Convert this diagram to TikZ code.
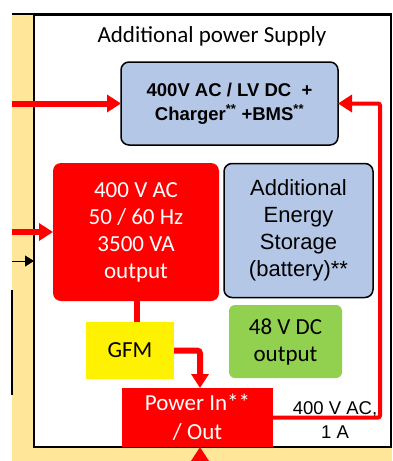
\documentclass[tikz,border=0pt]{standalone}
\usepackage{fontspec}
\newfontfamily\calibri{Carlito}
\newfontfamily\arial{Liberation Sans}
\usetikzlibrary{arrows.meta}
\definecolor{bandyellow}{HTML}{FFE699}
\definecolor{boxblue}{HTML}{B4C7E7}
\definecolor{dcgreen}{HTML}{92D050}
\begin{document}
\begin{tikzpicture}[x=1pt,y=-1pt,>={Triangle[length=14pt,width=17pt]},
 cal/.style={font=\fontsize{23}{27}\selectfont\calibri,align=center},
 ari/.style={font=\fontsize{22}{27}\selectfont\arial,align=center},
 unit/.style={inner sep=0pt,outer sep=0pt},
 bluebox/.style={unit,draw=black,line width=1.5pt,rounded corners=8pt,fill=boxblue},
 redbox/.style={unit,fill=red,text=white},
 pw/.style={red,line width=6pt},
 pwthin/.style={red,line width=4pt}]
\useasboundingbox (0,0) rectangle (392,461);
% yellow band and the supply frame
\fill[bandyellow] (12,14) rectangle (392,461);
\draw[line width=2pt] (12,14) -- (392,14);
\draw[line width=1.5pt,fill=white] (34,15) rectangle (391,447);
\node[cal] (title) at (212,36) {Additional power Supply};
% blocks
\node[bluebox,minimum width=217pt,minimum height=83pt,align=center,
 font=\fontsize{18.5}{24}\selectfont\arial\bfseries] (charger) at (229.5,103.5)
 {400V AC / LV DC~~+\\Charger\textsuperscript{**} +BMS\textsuperscript{**}};
\node[redbox,cal,rounded corners=8pt,minimum width=166pt,minimum height=138pt] (ac) at (136,232)
 {\raisebox{-2pt}{\parbox{166pt}{\centering 400 V AC\\50 / 60 Hz\\3500 VA\\output}}};
\node[bluebox,ari,minimum width=149pt,minimum height=134pt] (battery) at (298.5,230.5)
 {\raisebox{-3pt}{\parbox{149pt}{\centering Additional\\Energy\\Storage\\(battery)**}}};
\node[unit,cal,fill=dcgreen,rounded corners=6pt,minimum width=113pt,minimum height=73pt] (dcout) at (285.5,341.5)
 {48 V DC\\output};
\node[unit,cal,fill=yellow,minimum width=88pt,minimum height=57pt] (gfm) at (130,350.5) {GFM};
\node[redbox,font=\fontsize{23}{29}\selectfont\calibri,align=center,minimum width=151pt,minimum height=59pt] (powerio) at (197.5,417.5)
 {Power In**\\/ Out};
\node[font=\fontsize{18.5}{24}\selectfont\arial,align=center] (acline) at (335,420) {400 V AC,\\1 A};
% connectors
\coordinate (inTop) at (12,103.5);
\coordinate (inAc) at (12,232);
\coordinate (inBlk) at (12,261);
\coordinate (frameL) at (34,261);
\coordinate (loopR) at (380,103.5);
\coordinate (inBot) at (200,461);
\draw[pw,->] (inTop) -- (charger.west);
\draw[pw,->] (inAc) -- (ac.west);
\draw[line width=1pt,->,>={Triangle[length=9pt,width=11pt]}] (inBlk) -- (frameL);
\draw[pw] (ac.south -| 137,0) -- (gfm.north -| 137,0);
\draw[pw,->,rounded corners=3pt] (gfm.east) -| (powerio.north -| 200,0);
\draw[pwthin,->,rounded corners=2pt] (powerio.east) -| (loopR) -- (charger.east);
\draw[pw,->] (inBot) -- (powerio.south -| 200,0);
\draw[line width=1.2pt] (12,290) -- (12,395);
\end{tikzpicture}
\end{document}
